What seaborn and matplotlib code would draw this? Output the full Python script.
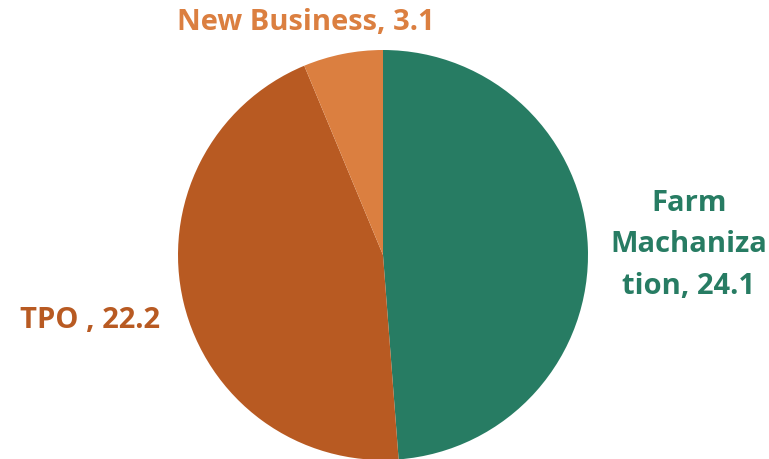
import matplotlib
matplotlib.use("Agg")
import matplotlib.pyplot as plt
import seaborn as sns

categories = ["Farm Machanization", "TPO ", "New Business"]
values = [24.1, 22.2, 3.1]
colors = ["#277C63", "#B85A22", "#DB7F40"]
label_texts = ["Farm\nMachaniza\ntion, 24.1", "TPO , 22.2", "New Business, 3.1"]

sns.set_theme(style="white")
plt.rcParams['font.family'] = ['Open Sans', 'DejaVu Sans']

fig = plt.figure(figsize=(7.69, 4.60), dpi=100)
ax = fig.add_axes([0, 0, 1, 1])
W, H = 769, 460
cx, cy, r = 383, H - 256, 205
ax.pie(values, colors=colors, startangle=90, counterclock=False,
       center=(cx, cy), radius=r, frame=True,
       wedgeprops=dict(linewidth=0))
ax.set_xlim(0, W)
ax.set_ylim(0, H)
ax.set_aspect("equal")
ax.axis("off")

pos = [(689, H - 245), (90, H - 320), (306, H - 22)]
for t, c, (x, y) in zip(label_texts, colors, pos):
    ax.text(x, y, t, color=c, fontsize=21, fontweight="bold",
            ha="center", va="center", linespacing=1.55)

fig.savefig("out.png", dpi=100)
